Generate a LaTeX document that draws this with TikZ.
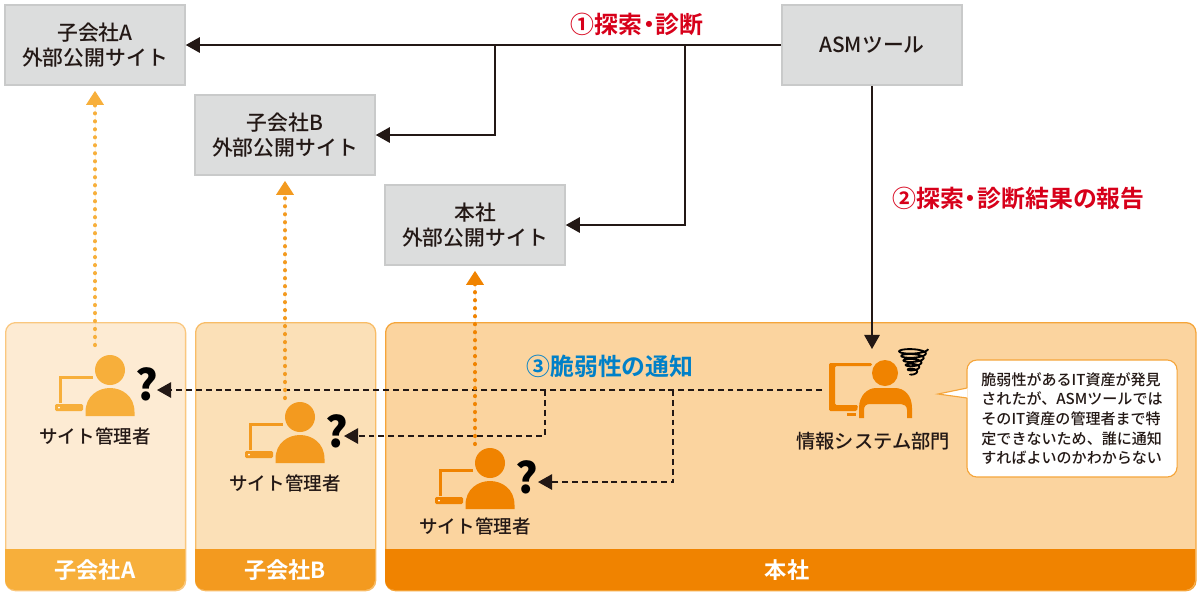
\documentclass[tikz,border=0pt]{standalone}
\usepackage{fontspec}
\setmainfont{Noto Sans CJK JP Medium}[BoldFont=Noto Sans CJK JP Bold]
\newfontfamily\askfont{Noto Sans CJK JP Black}
\usepackage{xcolor}
\usetikzlibrary{arrows.meta,positioning,calc}
\definecolor{ink}{HTML}{231815}
\definecolor{boxgray}{HTML}{DCDDDD}
\definecolor{boxline}{HTML}{C9CACA}
\definecolor{orangeA}{HTML}{F7AF3B}
\definecolor{orangeB}{HTML}{F39A1F}
\definecolor{orangeH}{HTML}{F08300}
\definecolor{panelA}{HTML}{FDEBD3}
\definecolor{panelB}{HTML}{FBE0B7}
\definecolor{panelH}{HTML}{FBD49F}
\definecolor{lineA}{HTML}{FAC77E}
\definecolor{lineB}{HTML}{F8BC66}
\definecolor{lineH}{HTML}{F5A53A}
\definecolor{stepred}{HTML}{D7001A}
\definecolor{stepblue}{HTML}{0080C8}
\newcommand{\nakaten}{\kern-.22em・\kern-.22em}

\begin{document}
\begin{tikzpicture}[x=0.025cm,y=-0.025cm]
    \tikzset{
      site/.style={draw=boxline,fill=boxgray,line width=1.1pt,minimum width=128pt,minimum height=56.9pt,align=center,text=ink,font=\fontsize{14.8}{17.7}\selectfont},
      panel/.style={rounded corners=7pt,line width=0.9pt,minimum height=190.6pt,anchor=north west},
      footer/.style={text=white,font=\fontsize{15.8}{17}\selectfont\bfseries},
      role/.style={text=ink,font=\fontsize{13.2}{15}\selectfont},
      steplabel/.style={font=\fontsize{17}{20}\selectfont\bfseries},
      bubble/.style={draw=lineH,fill=white,rounded corners=7pt,line width=0.8pt,minimum width=149.4pt,minimum height=83.2pt,align=left,text=ink,font=\fontsize{10.7}{14}\selectfont},
      arrow/.style={-{Triangle[length=10pt,width=11pt]},draw=ink,line width=1.05pt},
      notify/.style={-{Triangle[length=10pt,width=11pt]},draw=ink,line width=1.05pt,dash pattern=on 4.2pt off 2.8pt},
      dotarrow/.style={-{Triangle[length=10pt,width=12pt]},line width=3pt,line cap=round,dash pattern=on 0.01pt off 5.67pt,shorten >=3.5pt},
      pics/manager/.style={code={
        \fill[#1] (0,0) circle (15);
        \fill[#1] (-24.5,46) -- (-24.5,42) .. controls (-24.5,26) and (-12,18) .. (0,18) .. controls (12,18) and (24.5,26) .. (24.5,42) -- (24.5,46) -- cycle;
        \draw[#1,line width=2.2pt] (-17,7.5) -- (-49.5,7.5) -- (-49.5,33);
        \fill[#1,rounded corners=1pt] (-55,34) rectangle (-27,41);
        \fill[white] (-51,37.5) circle (1);
        \node[text=black,font=\fontsize{30}{30}\askfont] (-ask) at (36.5,14) {?};
      }}
    }
    \useasboundingbox (0,0) rectangle (1200,595);
    % panels
    \node[panel,draw=lineA,fill=panelA,minimum width=128pt] (panelA) at (5,322) {};
    \node[panel,draw=lineB,fill=panelB,minimum width=128pt] (panelB) at (195,322) {};
    \node[panel,draw=lineH,fill=panelH,minimum width=576.2pt] (panelH) at (385,322) {};
    \fill[orangeA] (5,549) -- (5,575) [rounded corners=7pt] -- (5,590) -- (185,590) -- (185,575) [sharp corners] -- (185,549) -- cycle;
    \fill[orangeB] (195,549) -- (195,575) [rounded corners=7pt] -- (195,590) -- (375,590) -- (375,575) [sharp corners] -- (375,549) -- cycle;
    \fill[orangeH] (385,549) -- (385,575) [rounded corners=7pt] -- (385,590) -- (1195,590) -- (1195,575) [sharp corners] -- (1195,549) -- cycle;
    \node[footer] (footA) at (95,570) {子会社A};
    \node[footer] (footB) at (285,570) {子会社B};
    \node[footer] (footH) at (787,570) {本社};
    % sites
    \node[site] (siteA) at (95,45) {子会社A\\外部公開サイト};
    \node[site] (siteB) at (285,135) {子会社B\\外部公開サイト};
    \node[site] (siteH) at (475,225) {本社\\外部公開サイト};
    \node[site] (asm) at (872,45) {ASMツール};
    % site managers
    \pic (mgrA) at (110,370) {manager=orangeA};
    \pic (mgrB) at (300,417) {manager=orangeB};
    \pic (mgrH) at (490,463) {manager=orangeH};
    \node[role] (roleA) at (95,436) {サイト管理者};
    \node[role] (roleB) at (285,483) {サイト管理者};
    \node[role] (roleH) at (475,526) {サイト管理者};
    % information systems dept
    \fill[orangeH] (885,373) circle (13);
    \fill[orangeH,even odd rule] (859,418) -- (859,408) .. controls (859,395) and (868,388) .. (876,388) -- (895,388) .. controls (904,388) and (912,395) .. (912,408) -- (912,418) -- (907,418) -- (907,410) .. controls (907,406) and (904,404) .. (901,404) -- (870,404) .. controls (866,404) and (864,406) .. (864,410) -- (864,418) -- cycle;
    \fill[orangeH,rounded corners=1pt] (829,363) -- (872,363) -- (872,366) -- (835,366) -- (835,405) -- (858,405) -- (857,411) -- (829,411) -- cycle;
    \fill[orangeH] (847,413) rectangle (856,416);
    \draw[black,line width=1.3pt] plot[domain=0:1980,samples=160,smooth] ({913+(15-\x/1980*12)*cos(\x)},{349+\x/1980*25+(3.5-\x/1980*2)*sin(\x)});
    \node[role,font=\fontsize{13.7}{15}\selectfont] (roleIS) at (873,441) {情報システム部門};
    \node[bubble] (note) at (1072,418.5) {脆弱性があるIT資産が発見\\されたが、ASMツールでは\\そのIT資産の管理者まで特\\定できないため、誰に通知\\すればよいのかわからない};
    \coordinate (tailtip) at (938,394);
    \fill[white] (967.5,388) -- (tailtip) -- (967.5,398) -- cycle;
    \draw[lineH,line width=0.8pt] (967,388) -- (tailtip) -- (967,398);
    % scan
    \coordinate (forkB) at (495,45);
    \coordinate (forkH) at (685,45);
    \draw[arrow] (asm) -- (siteA);
    \draw[arrow] (forkB) |- (siteB);
    \draw[arrow] (forkH) |- (siteH);
    % report
    \coordinate (isTop) at (872,349);
    \draw[arrow] (asm) -- (isTop);
    % notification
    \coordinate (isLeft) at (822,390);
    \coordinate (askA) at (157,390);
    \coordinate (askB) at (344,436);
    \coordinate (askH) at (538,482);
    \coordinate (forkNB) at (545,390);
    \coordinate (forkNH) at (673,390);
    \draw[notify] (isLeft) -- (askA);
    \draw[notify] (forkNB) |- (askB);
    \draw[notify] (forkNH) |- (askH);
    % own sites
    \coordinate (dotA) at (95,345);
    \coordinate (dotB) at (285,398);
    \coordinate (dotH) at (475,444);
    \draw[dotarrow,draw=orangeA,fill=orangeA] (dotA) -- (siteA);
    \draw[dotarrow,draw=orangeB,fill=orangeB] (dotB) -- (siteB);
    \draw[dotarrow,draw=orangeH,fill=orangeH] (dotH) -- (siteH);
    % step labels
    \node[steplabel,text=stepred] (step1) at (637,24) {①探索\nakaten 診断};
    \node[steplabel,text=stepred] (step2) at (1018.5,198) {②探索\nakaten 診断結果の報告};
    \node[steplabel,text=stepblue] (step3) at (610,366) {③脆弱性の通知};
  \end{tikzpicture}
\end{document}
